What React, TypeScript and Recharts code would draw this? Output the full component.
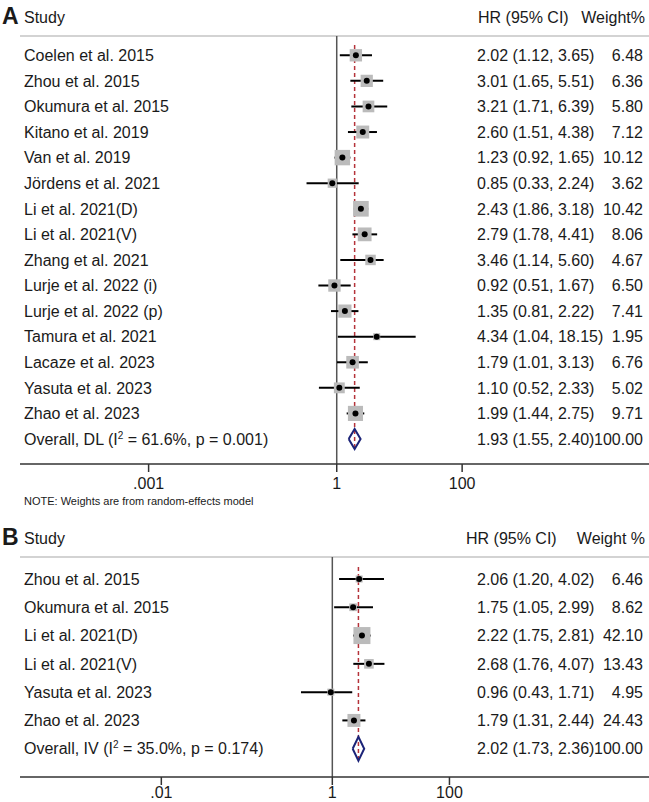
import React from "react";
import { ComposedChart, Scatter, XAxis, YAxis, ReferenceLine, ErrorBar } from "recharts";

const FONT = '"Liberation Sans", Arial, Helvetica, sans-serif';

// Panel A
const studiesA = [
  "Coelen et al. 2015",
  "Zhou et al. 2015",
  "Okumura et al. 2015",
  "Kitano et al. 2019",
  "Van et al. 2019",
  "Jördens et al. 2021",
  "Li et al. 2021(D)",
  "Li et al. 2021(V)",
  "Zhang et al. 2021",
  "Lurje et al. 2022 (i)",
  "Lurje et al. 2022 (p)",
  "Tamura et al. 2021",
  "Lacaze et al. 2023",
  "Yasuta et al. 2023",
  "Zhao et al. 2023",
];
const hrA = [2.02, 3.01, 3.21, 2.6, 1.23, 0.85, 2.43, 2.79, 3.46, 0.92, 1.35, 4.34, 1.79, 1.1, 1.99];
const lowA = [1.12, 1.65, 1.71, 1.51, 0.92, 0.33, 1.86, 1.78, 1.14, 0.51, 0.81, 1.04, 1.01, 0.52, 1.44];
const highA = [3.65, 5.51, 6.39, 4.38, 1.65, 2.24, 3.18, 4.41, 5.6, 1.67, 2.22, 18.15, 3.13, 2.33, 2.75];
const weightA = [6.48, 6.36, 5.8, 7.12, 10.12, 3.62, 10.42, 8.06, 4.67, 6.5, 7.41, 1.95, 6.76, 5.02, 9.71];
const overallA = { hr: 1.93, low: 1.55, high: 2.4, weight: 100 };
const ticksA = [-3, 0, 2];
const tickLabelsA = [".001", "1", "100"];

// Panel B
const studiesB = [
  "Zhou et al. 2015",
  "Okumura et al. 2015",
  "Li et al. 2021(D)",
  "Li et al. 2021(V)",
  "Yasuta et al. 2023",
  "Zhao et al. 2023",
];
const hrB = [2.06, 1.75, 2.22, 2.68, 0.96, 1.79];
const lowB = [1.2, 1.05, 1.75, 1.76, 0.43, 1.31];
const highB = [4.02, 2.99, 2.81, 4.07, 1.71, 2.44];
const weightB = [6.46, 8.62, 42.1, 13.43, 4.95, 24.43];
const overallB = { hr: 2.02, low: 1.73, high: 2.36, weight: 100 };
const ticksB = [-2, 0, 1.37];
const tickLabelsB = [".01", "1", "100"];

const lg = (v: number) => Math.log10(v);
const ciText = (h: number, l: number, u: number) =>
  `${h.toFixed(2)} (${l.toFixed(2)}, ${u.toFixed(2)})`;

interface PanelProps {
  names: string[];
  hr: number[];
  low: number[];
  high: number[];
  weight: number[];
  overall: { hr: number; low: number; high: number; weight: number };
  overallLabel: [string, string];
  xDomain: [number, number];
  yDomain: [number, number];
  ticks: number[];
  tickLabels: string[];
  boxScale: number;
  diamondHalf: number;
  height: number;
  top: number;
  plotTop: number;
  axisHeight: number;
  tickMargin: number;
}

function Panel(p: PanelProps) {
  const n = p.names.length;
  const rows = p.names.map((name, i) => ({
    x: lg(p.hr[i]),
    y: i,
    w: p.weight[i],
    err: [lg(p.hr[i]) - lg(p.low[i]), lg(p.high[i]) - lg(p.hr[i])],
  }));
  const o = p.overall;
  const diamond = [
    { x: lg(o.low), y: n },
    { x: lg(o.hr), y: n - p.diamondHalf },
    { x: lg(o.high), y: n },
    { x: lg(o.hr), y: n + p.diamondHalf },
    { x: lg(o.low), y: n },
  ];
  const rowTicks = [...rows.map((r) => r.y), n];

  const RowLabel = (props: any) => {
    const { y, payload } = props;
    const i = payload.value;
    const isOverall = i === n;
    const ci = isOverall ? ciText(o.hr, o.low, o.high) : ciText(p.hr[i], p.low[i], p.high[i]);
    const w = isOverall ? o.weight.toFixed(2) : p.weight[i].toFixed(2);
    return (
      <g fontFamily={FONT} fontSize={16} fill="#1a1a1a">
        <text x={24} y={y} dy="0.36em">
          {isOverall ? (
            <>
              <tspan>{p.overallLabel[0]}</tspan>
              <tspan dy={-6} fontSize={10}>2</tspan>
              <tspan dy={6}>{p.overallLabel[1]}</tspan>
            </>
          ) : (
            p.names[i]
          )}
        </text>
        <text x={477} y={y} dy="0.36em">{ci}</text>
        <text x={643} y={y} dy="0.36em" textAnchor="end">{w}</text>
      </g>
    );
  };

  return (
    <div style={{ position: "absolute", left: 0, top: p.top }}>
      <ComposedChart
        width={649}
        height={p.height}
        margin={{ top: p.plotTop, right: 0, bottom: 0, left: 19 }}
      >
        <XAxis
          type="number"
          dataKey="x"
          domain={p.xDomain}
          allowDataOverflow
          ticks={p.ticks}
          tickFormatter={(v) => p.tickLabels[p.ticks.indexOf(v)]}
          height={p.axisHeight}
          tickSize={8}
          tickMargin={p.tickMargin}
          axisLine={{ stroke: "#333", strokeWidth: 1.5 }}
          tickLine={{ stroke: "#333", strokeWidth: 1.5 }}
          tick={{ fill: "#1a1a1a", fontSize: 16, fontFamily: FONT }}
        />
        <YAxis
          type="number"
          dataKey="y"
          domain={p.yDomain}
          allowDataOverflow
          reversed
          width={1}
          ticks={rowTicks}
          interval={0}
          axisLine={false}
          tickLine={false}
          tick={RowLabel}
        />
        <ReferenceLine y={p.yDomain[0]} stroke="#c4c4c4" strokeWidth={1.5} />
        <ReferenceLine x={0} stroke="#555" strokeWidth={1.5} />
        <ReferenceLine
          segment={[
            { x: lg(o.hr), y: p.yDomain[0] + 0.35 },
            { x: lg(o.hr), y: n + p.diamondHalf },
          ]}
          stroke="#b5333a"
          strokeWidth={1.5}
          strokeDasharray="4 3"
        />
        <Scatter
          data={rows}
          isAnimationActive={false}
          shape={(s: any) => {
            const side = Math.max(7, p.boxScale * Math.sqrt(s.payload.w));
            return <rect x={s.cx - side / 2} y={s.cy - side / 2} width={side} height={side} fill="#bbbbbb" />;
          }}
        />
        <Scatter
          data={rows}
          isAnimationActive={false}
          shape={(s: any) => <circle cx={s.cx} cy={s.cy} r={3} fill="#000" />}
        >
          <ErrorBar dataKey="err" direction="x" width={0} stroke="#000" strokeWidth={2} />
        </Scatter>
        <Scatter
          data={diamond}
          isAnimationActive={false}
          line={{ stroke: "#1c2478", strokeWidth: 2 }}
          shape={() => <g />}
        />
      </ComposedChart>
    </div>
  );
}

export default function App() {
  return (
    <div style={{ position: "absolute", left: 0, top: 0, width: 649, height: 802, background: "#fff", fontFamily: FONT }}>
      <Panel
        names={studiesA}
        hr={hrA}
        low={lowA}
        high={highA}
        weight={weightA}
        overall={overallA}
        overallLabel={["Overall, DL (I", " = 61.6%, p = 0.001)"]}
        xDomain={[-5.051, 4.98]}
        yDomain={[-0.754, 15.977]}
        ticks={ticksA}
        tickLabels={tickLabelsA}
        boxScale={4.85}
        diamondHalf={0.39}
        height={500}
        top={0}
        plotTop={36}
        axisHeight={36}
        tickMargin={6}
      />
      <Panel
        names={studiesB}
        hr={hrB}
        low={lowB}
        high={highB}
        weight={weightB}
        overall={overallB}
        overallLabel={["Overall, IV (I", " = 35.0%, p = 0.174)"]}
        xDomain={[-3.653, 3.704]}
        yDomain={[-0.777, 7.0]}
        ticks={ticksB}
        tickLabels={tickLabelsB}
        boxScale={2.62}
        diamondHalf={0.42}
        height={282}
        top={520}
        plotTop={37}
        axisHeight={25}
        tickMargin={2}
      />
      <svg
        width={649}
        height={802}
        style={{ position: "absolute", left: 0, top: 0, pointerEvents: "none" }}
        fontFamily={FONT}
        fill="#1a1a1a"
      >
        <text x={2} y={24} fontSize={23} fontWeight="bold">A</text>
        <text x={24} y={23} fontSize={16}>Study</text>
        <text x={478} y={23} fontSize={16}>HR (95% CI)</text>
        <text x={645} y={23} fontSize={16} textAnchor="end">Weight%</text>
        <text x={24} y={505} fontSize={11}>NOTE: Weights are from random-effects model</text>
        <text x={2} y={545} fontSize={23} fontWeight="bold">B</text>
        <text x={24} y={544} fontSize={16}>Study</text>
        <text x={466} y={544} fontSize={16}>HR (95% CI)</text>
        <text x={645} y={544} fontSize={16} textAnchor="end">Weight %</text>
      </svg>
    </div>
  );
}
